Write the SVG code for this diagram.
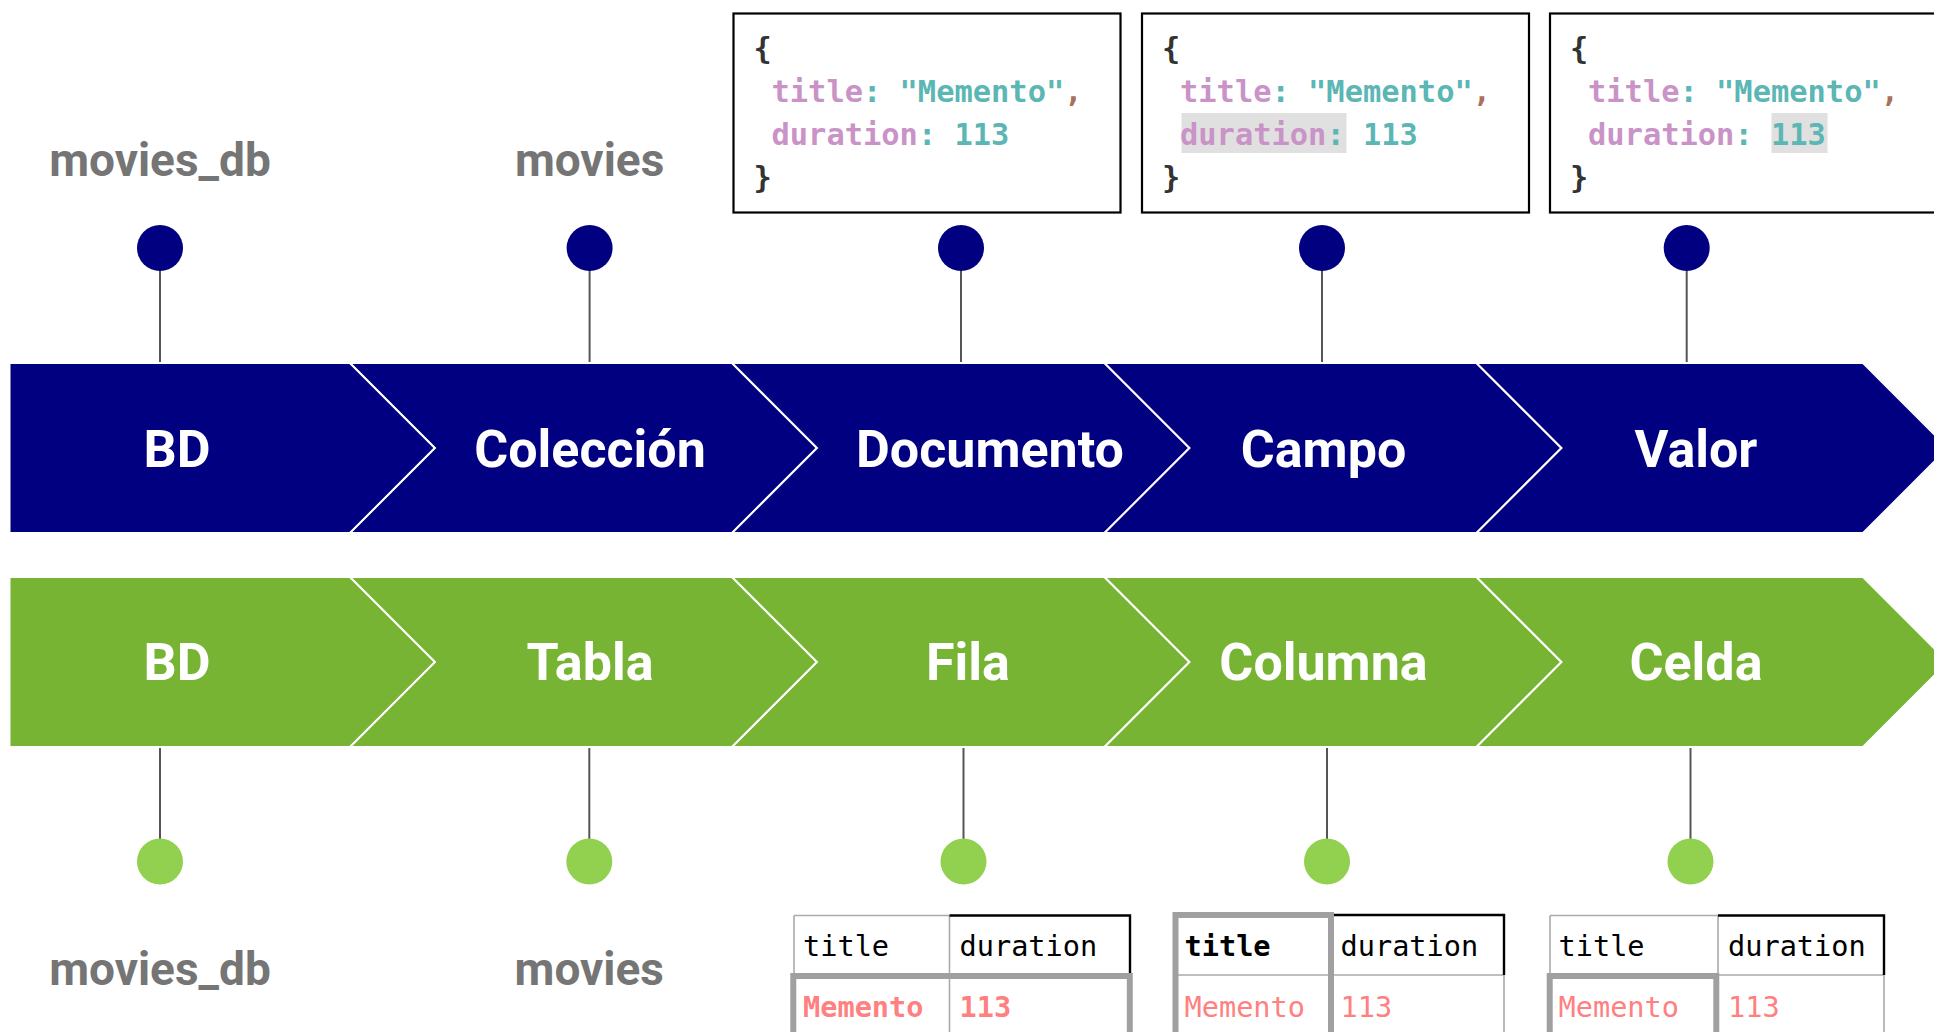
<svg xmlns="http://www.w3.org/2000/svg" width="1934" height="1032" viewBox="0 0 1934 1032">
  <style>
    .seg { stroke: #ffffff; stroke-width: 2; stroke-linejoin: miter; }
    .mongo { fill: #000080; }
    .sql { fill: #77b433; }
    .band-label { font-family: Roboto, "Liberation Sans", sans-serif; font-weight: 700; font-size: 52px; fill: #ffffff; text-anchor: middle; }
    .name { font-family: Roboto, "Liberation Sans", sans-serif; font-weight: 700; font-size: 46px; fill: #757575; text-anchor: middle; }
    .pin-top { fill: #000080; }
    .pin-bot { fill: #92d050; }
    .stem { stroke: #555555; stroke-width: 2; fill: none; }
    .doc { fill: #ffffff; stroke: #000000; stroke-width: 2.2; }
    .code { font-family: "DejaVu Sans Mono", "Liberation Mono", monospace; font-weight: 700; font-size: 30.4px; }
    .br { fill: #333333; }
    .k { fill: #c993c7; }
    .v { fill: #5bb6b4; }
    .cm { fill: #a8725a; }
    .hl { fill: #e0e0e0; }
    .cell { font-family: "DejaVu Sans Mono", "Liberation Mono", monospace; font-size: 28.6px; fill: #000000; }
    .data { fill: #ff8080; }
    .b { font-weight: 700; }
    .thin { stroke: #aaaaaa; stroke-width: 1.6; fill: none; }
    .blk { stroke: #000000; stroke-width: 2.4; fill: none; }
    .sel { stroke: #a0a0a0; stroke-width: 6; fill: none; }
  </style>

  <!-- pin stems linking labels to the bands -->
  <g id="connectors">
    <line class="stem" x1="160" y1="270" x2="160" y2="363"/>
    <line class="stem" x1="589.6" y1="270" x2="589.6" y2="363"/>
    <line class="stem" x1="961" y1="270" x2="961" y2="363"/>
    <line class="stem" x1="1322" y1="270" x2="1322" y2="363"/>
    <line class="stem" x1="1686.7" y1="270" x2="1686.7" y2="363"/>
    <line class="stem" x1="160" y1="748" x2="160" y2="839"/>
    <line class="stem" x1="589.3" y1="748" x2="589.3" y2="839"/>
    <line class="stem" x1="963.5" y1="748" x2="963.5" y2="839"/>
    <line class="stem" x1="1327" y1="748" x2="1327" y2="839"/>
    <line class="stem" x1="1690.5" y1="748" x2="1690.5" y2="839"/>
  </g>

  <!-- MongoDB hierarchy band -->
  <g id="mongo-bd">
    <polygon class="seg mongo" points="9.5,363 350,363 435,448 350,533 9.5,533"/>
    <text class="band-label" x="177" y="466.7">BD</text>
  </g>
  <g id="mongo-coleccion">
    <polygon class="seg mongo" points="350,363 732,363 817,448 732,533 350,533 435,448"/>
    <text class="band-label" x="590" y="466.7">Colección</text>
  </g>
  <g id="mongo-documento">
    <polygon class="seg mongo" points="732,363 1104.5,363 1189.5,448 1104.5,533 732,533 817,448"/>
    <text class="band-label" x="990" y="466.7">Documento</text>
  </g>
  <g id="mongo-campo">
    <polygon class="seg mongo" points="1104.5,363 1476.5,363 1561.5,448 1476.5,533 1104.5,533 1189.5,448"/>
    <text class="band-label" x="1323.5" y="466.7">Campo</text>
  </g>
  <g id="mongo-valor">
    <polygon class="seg mongo" points="1476.5,363 1863,363 1948,448 1863,533 1476.5,533 1561.5,448"/>
    <text class="band-label" x="1696" y="466.7">Valor</text>
  </g>

  <!-- relational hierarchy band -->
  <g id="sql-bd">
    <polygon class="seg sql" points="9.5,577 350,577 435,662 350,747 9.5,747"/>
    <text class="band-label" x="177" y="680">BD</text>
  </g>
  <g id="sql-tabla">
    <polygon class="seg sql" points="350,577 732,577 817,662 732,747 350,747 435,662"/>
    <text class="band-label" x="590" y="680">Tabla</text>
  </g>
  <g id="sql-fila">
    <polygon class="seg sql" points="732,577 1104.5,577 1189.5,662 1104.5,747 732,747 817,662"/>
    <text class="band-label" x="968" y="680">Fila</text>
  </g>
  <g id="sql-columna">
    <polygon class="seg sql" points="1104.5,577 1476.5,577 1561.5,662 1476.5,747 1104.5,747 1189.5,662"/>
    <text class="band-label" x="1323.5" y="680">Columna</text>
  </g>
  <g id="sql-celda">
    <polygon class="seg sql" points="1476.5,577 1863,577 1948,662 1863,747 1476.5,747 1561.5,662"/>
    <text class="band-label" x="1696" y="680">Celda</text>
  </g>

  <!-- top pins -->
  <g id="pin-top-db">
    <circle class="pin-top" cx="160" cy="248" r="23"/>
    <text class="name" x="160" y="176">movies_db</text>
  </g>
  <g id="pin-top-coll">
    <circle class="pin-top" cx="589.6" cy="248" r="23"/>
    <text class="name" x="589.6" y="176">movies</text>
  </g>
  <g id="pin-top-doc">
    <circle class="pin-top" cx="961" cy="248" r="23"/>
  </g>
  <g id="pin-top-field">
    <circle class="pin-top" cx="1322" cy="248" r="23"/>
  </g>
  <g id="pin-top-value">
    <circle class="pin-top" cx="1686.7" cy="248" r="23"/>
  </g>

  <!-- bottom pins -->
  <g id="pin-bot-db">
    <circle class="pin-bot" cx="160" cy="861.5" r="23"/>
    <text class="name" x="160" y="985">movies_db</text>
  </g>
  <g id="pin-bot-table">
    <circle class="pin-bot" cx="589.3" cy="861.5" r="23"/>
    <text class="name" x="589.3" y="985">movies</text>
  </g>
  <g id="pin-bot-row">
    <circle class="pin-bot" cx="963.5" cy="861.5" r="23"/>
  </g>
  <g id="pin-bot-col">
    <circle class="pin-bot" cx="1327" cy="861.5" r="23"/>
  </g>
  <g id="pin-bot-cell">
    <circle class="pin-bot" cx="1690.5" cy="861.5" r="23"/>
  </g>

  <!-- document samples -->
  <g id="doc-document">
    <rect class="doc" x="733.5" y="13.5" width="387" height="199"/>
    <text class="code br" x="753.5" y="58.5">{</text>
    <text class="code" x="771.5" y="101.7"><tspan class="k">title</tspan><tspan class="v">: "Memento"</tspan><tspan class="cm">,</tspan></text>
    <text class="code" x="771.5" y="145"><tspan class="k">duration</tspan><tspan class="v">: 113</tspan></text>
    <text class="code br" x="753.5" y="188.3">}</text>
  </g>
  <g id="doc-field">
    <rect class="doc" x="1142" y="13.5" width="387" height="199"/>
    <rect class="hl" x="1181.5" y="113" width="165" height="40"/>
    <text class="code br" x="1162" y="58.5">{</text>
    <text class="code" x="1180" y="101.7"><tspan class="k">title</tspan><tspan class="v">: "Memento"</tspan><tspan class="cm">,</tspan></text>
    <text class="code" x="1180" y="145"><tspan class="k">duration</tspan><tspan class="v">: 113</tspan></text>
    <text class="code br" x="1162" y="188.3">}</text>
  </g>
  <g id="doc-value">
    <rect class="doc" x="1550" y="13.5" width="400" height="199"/>
    <rect class="hl" x="1771.5" y="113" width="56" height="40"/>
    <text class="code br" x="1570" y="58.5">{</text>
    <text class="code" x="1588" y="101.7"><tspan class="k">title</tspan><tspan class="v">: "Memento"</tspan><tspan class="cm">,</tspan></text>
    <text class="code" x="1588" y="145"><tspan class="k">duration</tspan><tspan class="v">: 113</tspan></text>
    <text class="code br" x="1570" y="188.3">}</text>
  </g>

  <!-- table samples -->
  <g id="table-row">
    <line class="thin" x1="794" y1="915.5" x2="949.5" y2="915.5"/>
    <line class="thin" x1="794" y1="915.5" x2="794" y2="1040"/>
    <line class="thin" x1="949.5" y1="915.5" x2="949.5" y2="1040"/>
    <line class="thin" x1="794" y1="975" x2="1130" y2="975"/>
    <polyline class="blk" points="949.5,915.5 1130,915.5 1130,975"/>
    <rect class="sel" x="793.3" y="976" width="336.5" height="80"/>
    <text class="cell" x="803" y="956">title</text>
    <text class="cell" x="959.5" y="956">duration</text>
    <text class="cell data b" x="803" y="1016.7">Memento</text>
    <text class="cell data b" x="959.5" y="1016.7">113</text>
  </g>
  <g id="table-column">
    <line class="thin" x1="1331" y1="975" x2="1504" y2="975"/>
    <line class="thin" x1="1504" y1="975" x2="1504" y2="1040"/>
    <line class="thin" x1="1175.5" y1="975" x2="1331" y2="975"/>
    <polyline class="blk" points="1331,915 1504,915 1504,975"/>
    <rect class="sel" x="1175.5" y="915" width="155.5" height="140"/>
    <text class="cell b" x="1184.5" y="956">title</text>
    <text class="cell" x="1340.5" y="956">duration</text>
    <text class="cell data" x="1184.5" y="1016.7">Memento</text>
    <text class="cell data" x="1340.5" y="1016.7">113</text>
  </g>
  <g id="table-cell">
    <line class="thin" x1="1550" y1="915.5" x2="1718" y2="915.5"/>
    <line class="thin" x1="1550" y1="915.5" x2="1550" y2="976"/>
    <line class="thin" x1="1718" y1="915.5" x2="1718" y2="1040"/>
    <line class="thin" x1="1718" y1="975" x2="1884" y2="975"/>
    <line class="thin" x1="1884" y1="975" x2="1884" y2="1040"/>
    <polyline class="blk" points="1718,915.5 1884,915.5 1884,975"/>
    <rect class="sel" x="1549.7" y="976" width="166.6" height="80"/>
    <text class="cell" x="1558.5" y="956">title</text>
    <text class="cell" x="1728" y="956">duration</text>
    <text class="cell data" x="1558.5" y="1016.7">Memento</text>
    <text class="cell data" x="1728" y="1016.7">113</text>
  </g>
</svg>
